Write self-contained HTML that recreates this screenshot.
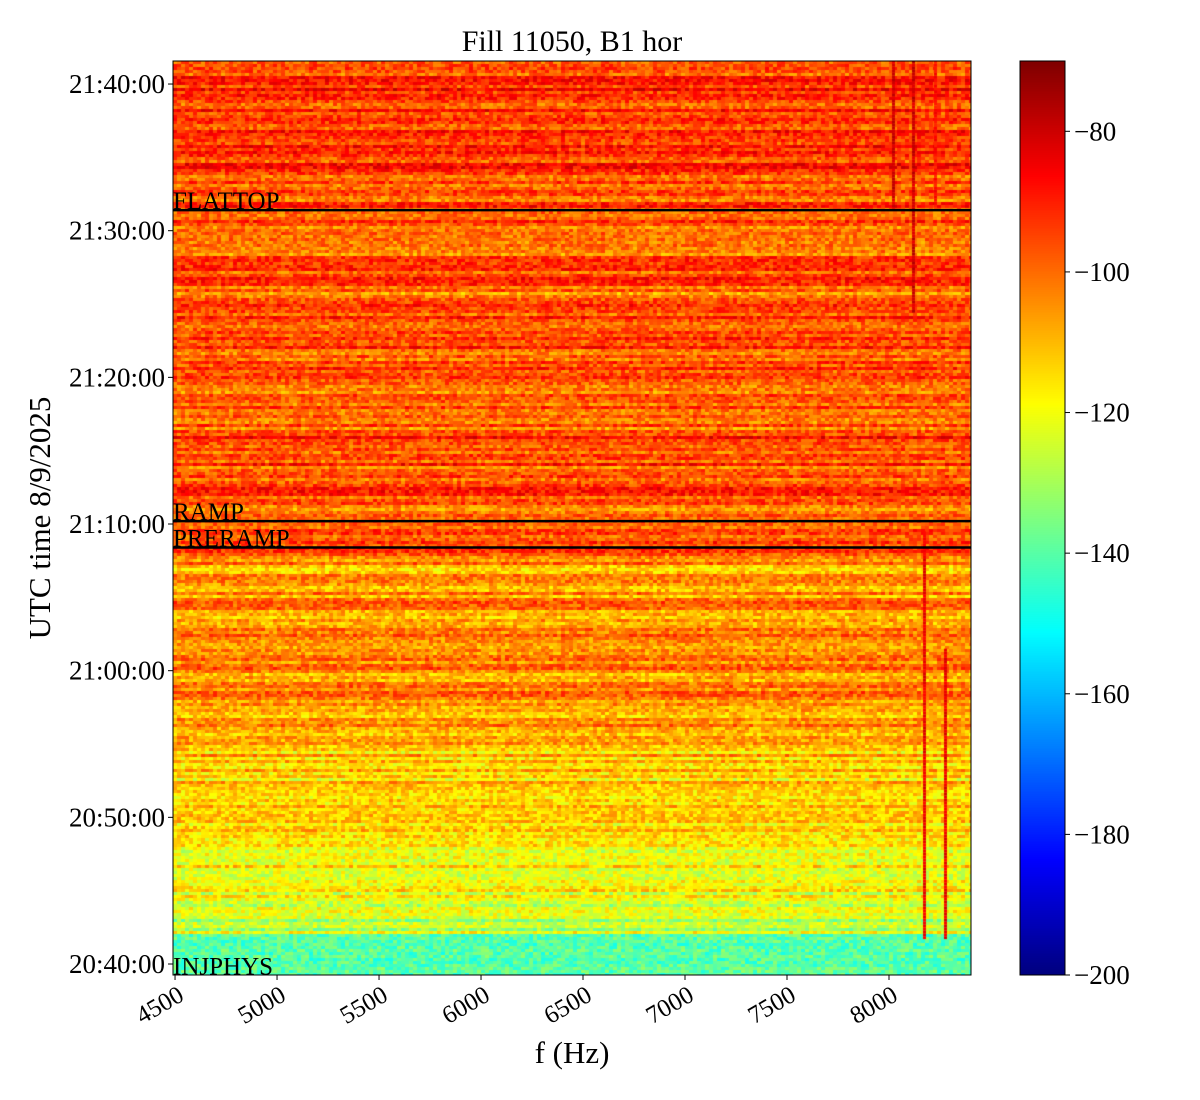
<!DOCTYPE html>
<html><head><meta charset="utf-8">
<style>
html,body{margin:0;padding:0;background:#fff;}
#wrap{position:relative;width:1200px;height:1100px;font-family:"Liberation Serif",serif;}
canvas{position:absolute;}
svg{position:absolute;left:0;top:0;}
text{font-family:"Liberation Serif",serif;fill:#000;}
</style></head>
<body>
<div id="wrap">
<canvas id="hm" width="798" height="914" style="left:173px;top:61px"></canvas>
<canvas id="cb" width="45" height="914" style="left:1020px;top:61px"></canvas>
<svg id="ov" width="1200" height="1100"></svg>
</div>
<script>
// ---- data ----
const rowMinutes = [39,40,41,42,43,44,45,46,47,48,49,50,51,52,53,54,55,56,57,58,59,60,61,62,63,64,65,66,67,68,69,70,71,72,73,74,75,76,77,78,79,80,81,82,83,84,85,86,87,88,89,90,91,92,93,94,95,96,97,98,99,100,101];
const rowLevels = [-140,-140,-140,-126,-125,-121,-120,-118,-117,-117,-116,-115,-115,-114,-113,-111,-110,-108,-107,-104,-106,-104,-107,-104,-107,-103,-106,-108,-104,-98,-99,-99,-97,-95,-98,-96,-93,-100,-98,-101,-99,-97,-100,-95,-99,-96,-101,-95,-98,-99,-97,-97,-95,-98,-96,-93,-95,-94,-92,-94,-93,-94,-93];
// vertical spectral lines: frequency, start minute, end minute, level
const lineFreqs = [8020,8122,8176,8279,8230];
const lineStart = [91.5,84.4,41.7,41.7,91.5];
const lineEnd = [101.6,101.6,69.5,61.5,101.6];
const lineLevels = [-80,-80,-84,-84,-88];
// event markers
const eventNames = ["FLATTOP","RAMP","PRERAMP","INJPHYS"];
const eventMinutes = [91.4,70.2,68.4,39.2];
const xTicks = [4500,5000,5500,6000,6500,7000,7500,8000];
const yTickMinutes = [40,50,60,70,80,90,100];
const yTickLabels = ["20:40:00","20:50:00","21:00:00","21:10:00","21:20:00","21:30:00","21:40:00"];
const cbTicks = [-80,-100,-120,-140,-160,-180,-200];

// ---- scales ----
const X0=173,X1=971,Y0=61,Y1=975;
const fMin=4490,fMax=8402,tMin=39.25,tMax=101.57,vMin=-200,vMax=-70;
const xs=f=>X0+(f-fMin)/(fMax-fMin)*(X1-X0);
const ys=t=>Y1-(t-tMin)/(tMax-tMin)*(Y1-Y0);
function jet(v){
  let x=(v-vMin)/(vMax-vMin);x=Math.max(0,Math.min(1,x));
  const c=(a)=>Math.max(0,Math.min(1,a));
  const r=c(Math.min(4*x-1.5,-4*x+4.5)),g=c(Math.min(4*x-0.5,-4*x+3.5)),b=c(Math.min(4*x+0.5,-4*x+2.5));
  return [r*255|0,g*255|0,b*255|0];
}
function tex(i,j){let h=(i*374761393+j*668265263)|0;h=(h^(h>>>13))*1274126177|0;h=h^(h>>>16);return ((h>>>0)%1000)/1000-0.5;}

// ---- heatmap ----
const hm=document.getElementById('hm'),ctx=hm.getContext('2d');
const W=798,H=914,img=ctx.createImageData(W,H);
function levelAt(t){
  let L=rowLevels[0];
  for(let k=0;k<rowMinutes.length;k++){if(t>=rowMinutes[k])L=rowLevels[k];}
  return L;
}
const cw=4,ch=3;
for(let py=0;py<H;py+=ch){
  const t=tMax-(py+ch/2)/H*(tMax-tMin);
  const base=levelAt(t);
  const rowJit=tex(py,7)*(t>42?16:4);
  for(let px=0;px<W;px+=cw){
    const v=base+rowJit+tex(px,py)*16;
    const [r,g,b]=jet(v);
    for(let dy=0;dy<ch&&py+dy<H;dy++)for(let dx=0;dx<cw&&px+dx<W;dx++){
      const o=((py+dy)*W+px+dx)*4;img.data[o]=r;img.data[o+1]=g;img.data[o+2]=b;img.data[o+3]=255;}
  }
}
ctx.putImageData(img,0,0);
// vertical spectral lines
lineFreqs.forEach((f,k)=>{
  const x=xs(f)-X0, ya=ys(lineEnd[k])-Y0, yb=ys(lineStart[k])-Y0;
  for(let y=ya;y<yb;y+=ch){
    const [r,g,b]=jet(lineLevels[k]+tex(k,y|0)*8);
    ctx.fillStyle=`rgb(${r},${g},${b})`;
    ctx.fillRect(Math.round(x-1.5),y,3,Math.min(ch,yb-y));
  }
});

// ---- colorbar ----
const cb=document.getElementById('cb'),cc=cb.getContext('2d');
for(let y=0;y<914;y++){const v=vMax-(y/913)*(vMax-vMin);const [r,g,b]=jet(v);cc.fillStyle=`rgb(${r},${g},${b})`;cc.fillRect(0,y,45,1);}

// ---- overlay ----
const ov=document.getElementById('ov'),NS="http://www.w3.org/2000/svg";
function el(tag,attrs,txt){const e=document.createElementNS(NS,tag);for(const k in attrs)e.setAttribute(k,attrs[k]);if(txt!==undefined)e.textContent=txt;ov.appendChild(e);return e;}
eventMinutes.forEach((m,i)=>{
  const y=ys(m);
  if(eventNames[i]!=="INJPHYS"){
    const l=el('line',{x1:X0,x2:X1,y1:y,y2:y,stroke:'#000','stroke-width':2.5});
    
    
  }
  const t=el('text',{x:X0,y:y-1,'font-size':25},eventNames[i]);
  
  
});
const fr=el('rect',{x:X0,y:Y0,width:X1-X0,height:Y1-Y0,fill:'none',stroke:'#000','stroke-width':1});

xTicks.forEach(f=>{
  const x=xs(f);
  const tk=el('line',{x1:x,x2:x,y1:Y1,y2:Y1+5,stroke:'#000'});
  
  const t=el('text',{x:x+2,y:Y1+10,'font-size':25,'text-anchor':'end','dominant-baseline':'hanging',transform:`rotate(-30 ${x+2} ${Y1+10})`},String(f));
  
});
yTickMinutes.forEach((m,i)=>{
  const y=ys(m);
  const tk=el('line',{x1:X0-5,x2:X0,y1:y,y2:y,stroke:'#000'});
  
  const t=el('text',{x:X0-8,y:y+9,'font-size':27,'text-anchor':'end'},yTickLabels[i]);
  
});
const cf=el('rect',{x:1020,y:Y0,width:45,height:Y1-Y0,fill:'none',stroke:'#000'});

cbTicks.forEach(v=>{
  const y=Y0+(vMax-v)/(vMax-vMin)*(Y1-Y0);
  const tk=el('line',{x1:1065,x2:1070,y1:y,y2:y,stroke:'#000'});
  
  const t=el('text',{x:1074,y:y+9,'font-size':27},'\u2212'+Math.abs(v));
  
});
const ti=el('text',{x:572,y:51,'font-size':30,'text-anchor':'middle'},'Fill 11050, B1 hor');

const xl=el('text',{x:572,y:1063,'font-size':31,'text-anchor':'middle'},'f (Hz)');

const yl=el('text',{x:50,y:518,'font-size':31,'text-anchor':'middle',transform:'rotate(-90 50 518)'},'UTC time 8/9/2025');

</script>
</body></html>
